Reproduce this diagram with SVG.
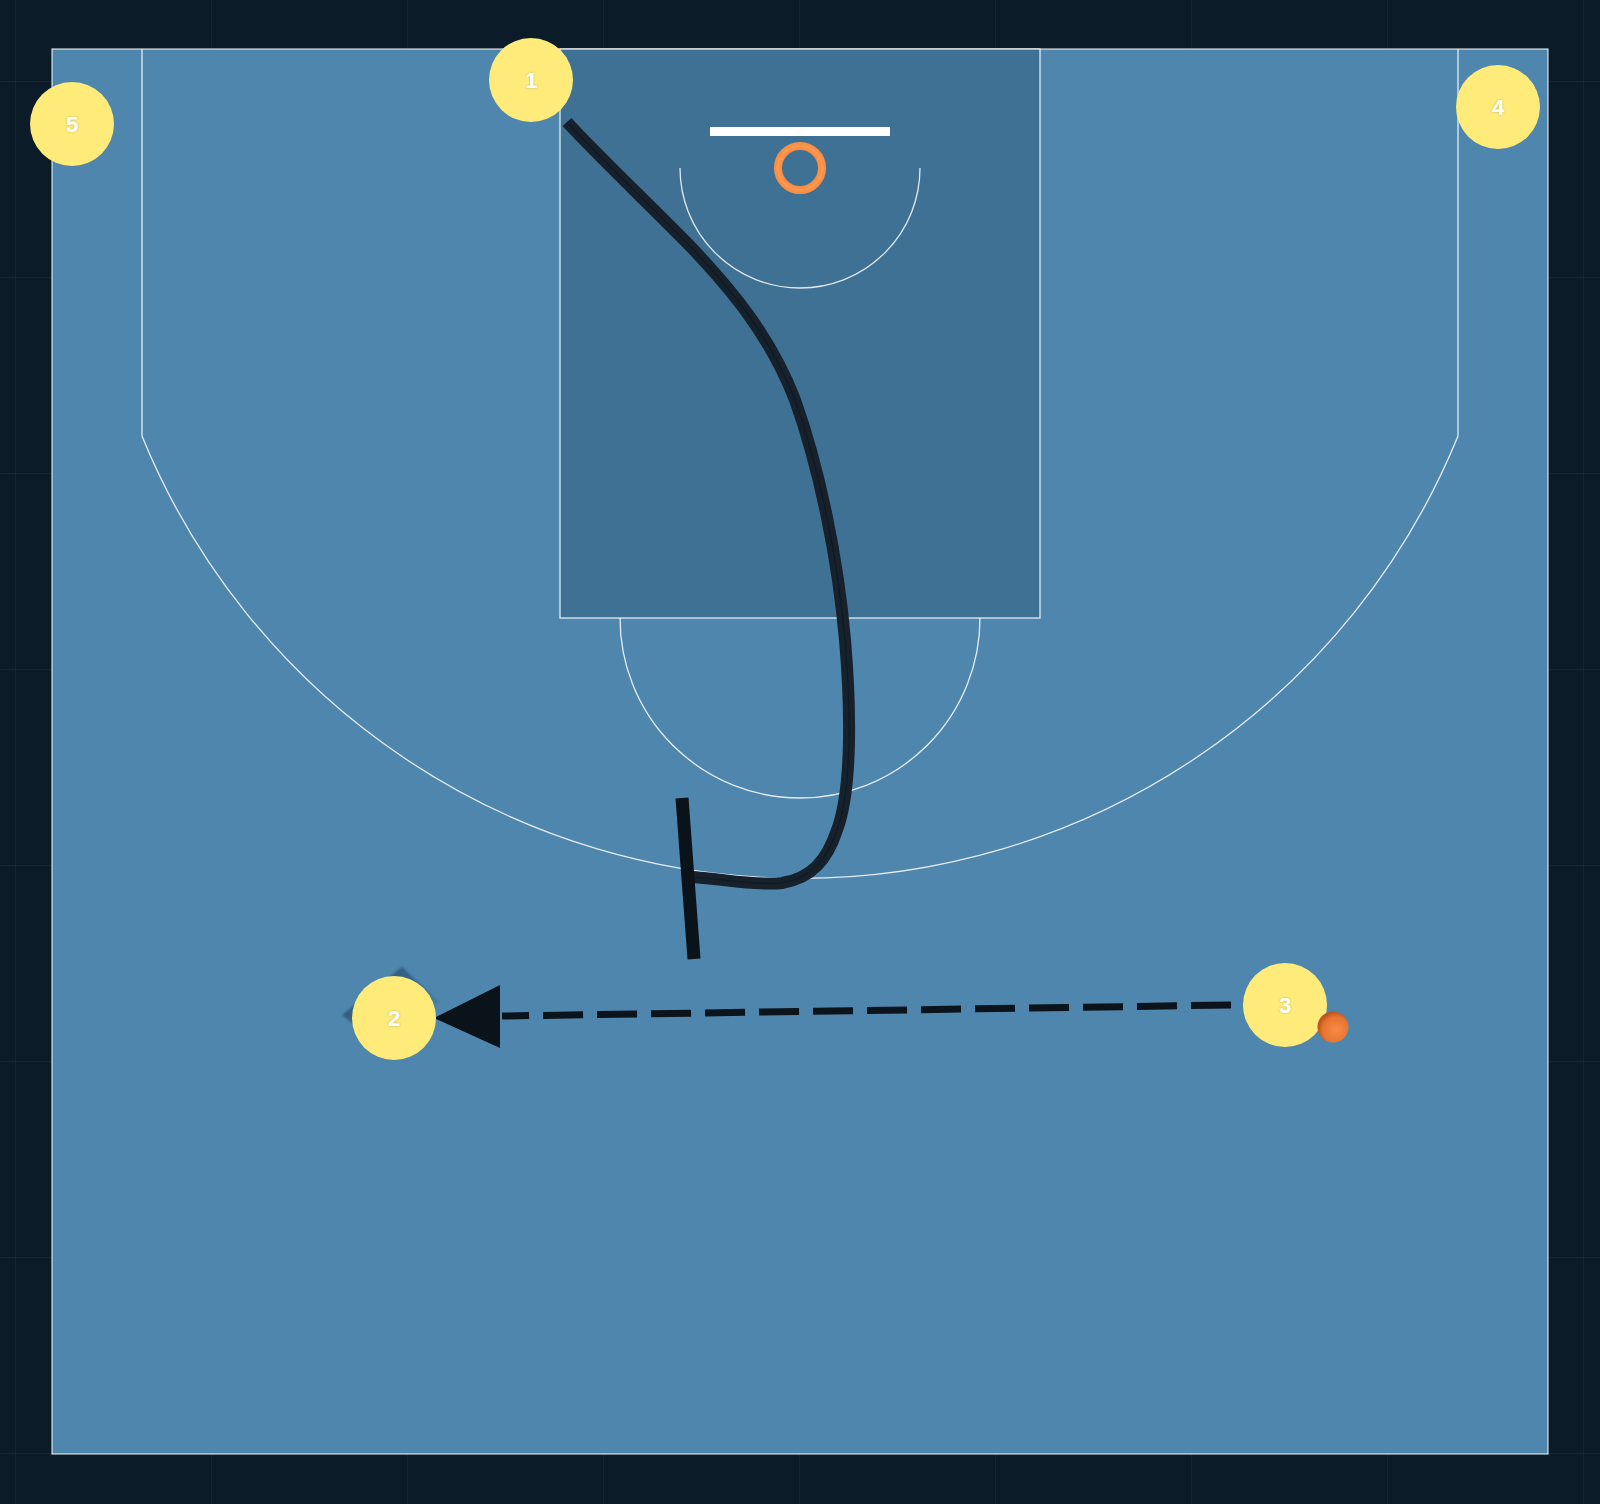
<svg xmlns="http://www.w3.org/2000/svg" width="1600" height="1504" viewBox="0 0 1600 1504">
<style>
.line{fill:none;stroke:#ffffff;stroke-opacity:0.85;stroke-width:1.3}
.paint{fill:#3e7194;stroke:#ffffff;stroke-opacity:0.85;stroke-width:1.3}
.player circle{fill:#ffeb7a}
.player text{font-family:"Liberation Sans",Arial,sans-serif;font-weight:bold;font-size:22px;fill:#ffffff;text-anchor:middle;dominant-baseline:central}
.grid{stroke:#ffffff;stroke-opacity:0.04;stroke-width:1}
.cut{fill:none;stroke:#16212c;stroke-width:12;stroke-linejoin:round}
</style>
<defs>
<pattern id="gridp" x="15" y="81" width="196" height="196" patternUnits="userSpaceOnUse">
<path d="M0.5,0 V196 M0,0.5 H196" class="grid"/>
</pattern>
<radialGradient id="ballg" cx="0.6" cy="0.6" r="0.6">
<stop offset="0" stop-color="#f88b45"/>
<stop offset="0.7" stop-color="#e87432"/>
<stop offset="1" stop-color="#b85420"/>
</radialGradient>
<linearGradient id="diag" x1="0" y1="0" x2="1" y2="1">
<stop offset="0" stop-color="#1f4260"/>
<stop offset="0.45" stop-color="#35648a" stop-opacity="0.85"/>
<stop offset="1" stop-color="#4f86ad" stop-opacity="0"/>
</linearGradient>
<filter id="blur2" x="-20%" y="-20%" width="140%" height="140%"><feGaussianBlur stdDeviation="1.2"/></filter>
<filter id="tsh" x="-50%" y="-50%" width="200%" height="200%"><feDropShadow dx="0" dy="0" stdDeviation="1" flood-color="#000" flood-opacity="0.25"/></filter>
</defs>
<rect width="1600" height="1504" fill="#0b1b28"/>
<rect width="1600" height="1504" fill="url(#gridp)"/>
<g id="court">
<rect x="52" y="49" width="1496" height="1405" fill="#4f86ad" stroke="#ffffff" stroke-opacity="0.75" stroke-width="1.3"/>
<rect x="560" y="49" width="480" height="569" class="paint"/>
<path class="line" d="M142,49 V436 A710.5,710.5 0 0 0 1458,436 V49"/>
<path class="line" d="M620,618 A180,180 0 0 0 980,618"/>
<path class="line" d="M680,168 A120,120 0 0 0 920,168"/>
<rect x="710" y="127" width="180" height="9" fill="#ffffff"/>
<circle cx="800" cy="168" r="22" fill="none" stroke="#fb8f45" stroke-width="8"/>
<circle cx="800" cy="168" r="22" fill="none" stroke="#ffa860" stroke-width="2" stroke-opacity="0.5"/>
</g>
<g id="connectors">
<path class="cut" d="M567,122 C600,158 650,205 690,246 C730,288 770,335 795,400 C820,470 838,560 845,640 C851,710 852,790 837,830 C827,860 812,878 782,883 C752,886 720,878 688,877"/>
<path d="M567,122 C600,158 650,205 690,246 C730,288 770,335 795,400 C820,470 838,560 845,640 C851,710 852,790 837,830 C827,860 812,878 782,883 C752,886 720,878 688,877" fill="none" stroke="#0c141c" stroke-width="1.2" stroke-opacity="0.6"/>
<line x1="682" y1="798" x2="694" y2="959" stroke="#0a121a" stroke-width="13"/>
<line x1="1231" y1="1005" x2="502" y2="1016" stroke="#0b131b" stroke-width="7" stroke-dasharray="40 14"/>
<polygon points="434,1018 500,985 500,1048" fill="#0a121a"/>
</g>
<g id="player2" class="player">
<polygon points="402,967 342,1015 385,1050 440,1002" fill="url(#diag)" filter="url(#blur2)"/>
<circle cx="394" cy="1018" r="42"/>
<text x="394" y="1018" filter="url(#tsh)">2</text>
</g>
<g id="player1" class="player">
<circle cx="531" cy="80" r="42"/>
<text x="531" y="80" filter="url(#tsh)">1</text>
</g>
<g id="player3" class="player">
<circle cx="1285" cy="1005" r="42"/>
<text x="1285" y="1005" filter="url(#tsh)">3</text>
</g>
<g id="player4" class="player">
<circle cx="1498" cy="107" r="42"/>
<text x="1498" y="107" filter="url(#tsh)">4</text>
</g>
<g id="player5" class="player">
<circle cx="72" cy="124" r="42"/>
<text x="72" y="124" filter="url(#tsh)">5</text>
</g>
<g id="ball">
<circle cx="1333" cy="1027" r="15.5" fill="url(#ballg)"/>
</g>
</svg>
